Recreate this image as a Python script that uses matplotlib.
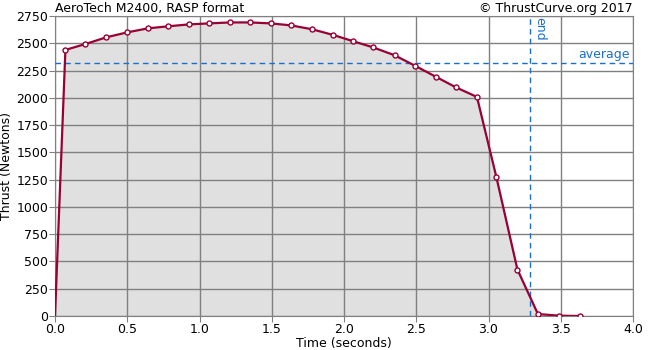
import matplotlib
matplotlib.use('Agg')
import matplotlib.pyplot as plt

# thrust curve points
time_s = [0.0, 0.072, 0.21, 0.356, 0.5, 0.644, 0.78, 0.926, 1.065, 1.21, 1.35,
          1.495, 1.634, 1.78, 1.926, 2.065, 2.2, 2.35, 2.49, 2.634, 2.773,
          2.92, 3.055, 3.20, 3.342, 3.488, 3.634]
thrust_n = [0, 2439, 2493, 2555, 2600, 2637, 2655, 2673, 2682, 2691, 2691,
            2682, 2664, 2628, 2576, 2518, 2463, 2390, 2295, 2194, 2097,
            2008, 1270, 426, 18, 3, 0]
average_n = 2317
burn_end_s = 3.29

x_ticks = [0.0, 0.5, 1.0, 1.5, 2.0, 2.5, 3.0, 3.5, 4.0]
y_ticks = list(range(0, 2751, 250))

plt.rcParams['font.family'] = 'DejaVu Sans'
plt.rcParams['font.size'] = 9

fig = plt.figure(figsize=(6.5, 3.5), dpi=100)
ax = fig.add_axes([55/650, 34/350, 578/650, 300/350])

grid_c = '#808080'
line_c = '#990033'
blue = '#1a6fcc'

ax.fill_between(time_s, thrust_n, 0, color='#e0e0e0', zorder=1)
for x in x_ticks:
    ax.axvline(x, color=grid_c, lw=1, zorder=2)
for y in y_ticks:
    ax.axhline(y, color=grid_c, lw=1, zorder=2)

ax.axhline(average_n, color=blue, lw=1, ls=(0, (4, 3)), zorder=3)
ax.axvline(burn_end_s, color=blue, lw=1, ls=(0, (4, 3)), zorder=3)

ax.plot(time_s, thrust_n, color=line_c, lw=1.6, zorder=4)
ax.plot(time_s[1:], thrust_n[1:], ls='none', marker='o', ms=3.6,
        mfc='white', mec=line_c, mew=1, zorder=5)

ax.text(3.98, average_n + 25, 'average', color=blue, ha='right', va='bottom')
ax.text(burn_end_s + 0.02, 2740, 'end', color=blue, ha='left', va='top',
        rotation=-90)

ax.set_xlim(0, 4)
ax.set_ylim(0, 2750)
ax.set_xticks(x_ticks)
ax.set_xticklabels([f'{v:.1f}' for v in x_ticks])
ax.set_yticks(y_ticks)
for s in ax.spines.values():
    s.set_color(grid_c)
ax.tick_params(length=4, color=grid_c, pad=1)

ax.set_xlabel('Time (seconds)', labelpad=1)
ax.set_ylabel('Thrust (Newtons)', labelpad=2)
fig.text(55/650, 1 - 2/350, 'AeroTech M2400, RASP format', ha='left', va='top')
fig.text(633/650, 1 - 2/350, '\u00a9 ThrustCurve.org 2017', ha='right', va='top')

fig.savefig('out.png', dpi=100)
